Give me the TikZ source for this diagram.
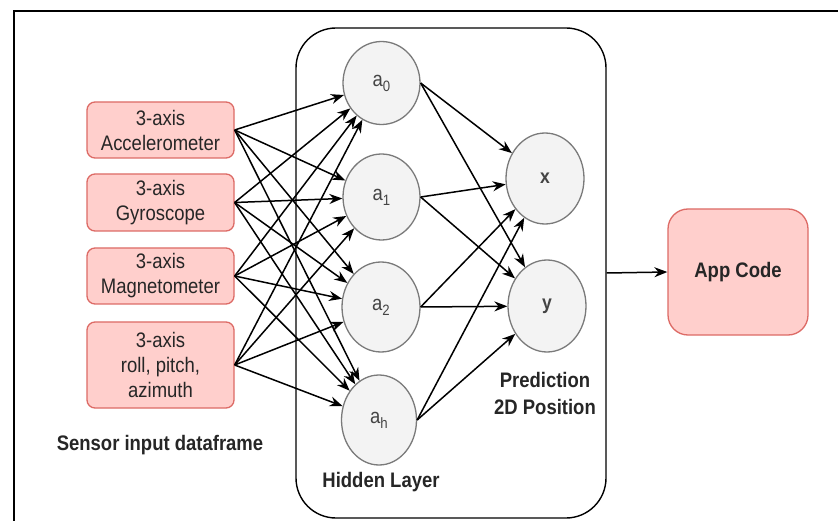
\documentclass[tikz,border=0pt]{standalone}
\usepackage{fontspec}
\setmainfont{Liberation Sans}[FakeStretch=0.88]
\usetikzlibrary{arrows.meta,shapes.geometric}
\definecolor{boxfill}{HTML}{FFCFCC}
\definecolor{boxline}{HTML}{DD6B66}
\definecolor{cfill}{HTML}{F3F3F3}
\definecolor{cline}{HTML}{7A7A7A}
\definecolor{ctext}{HTML}{444444}
\tikzset{
  inbox/.style={draw=boxline, fill=boxfill, line width=1.3pt, rounded corners=8pt, align=center, font=\fontsize{21}{25}\selectfont, text=black!85, inner sep=0pt},
  neuron/.style={ellipse, draw=cline, fill=cfill, line width=1.3pt, inner sep=0pt, font=\fontsize{21}{21}\selectfont, text=ctext},
  conn/.style={-{Stealth[length=13pt,width=10pt]}, line width=1.5pt, black},
  lbl/.style={font=\bfseries\fontsize{21}{27}\selectfont, align=center, text=black!85},
}
\newcommand{\sub}[1]{{\fontsize{15}{15}\selectfont\raisebox{-5pt}{#1}}}
\begin{document}
\begin{tikzpicture}[x=1pt,y=-1pt]
\useasboundingbox (0,0) rectangle (838,521);
\fill[white] (0,0) rectangle (838,521);
% frame
\draw[line width=2.2pt, black] (14,521) -- (14,11) -- (838,11);
% container
\node[draw, line width=1.4pt, rounded corners=40pt, minimum width=310pt, minimum height=490pt, inner sep=0pt] (hl) at (451,273) {};
% inputs
\node[inbox, minimum width=147pt, minimum height=56pt] (acc) at (160.5,130) {3-axis\\Accelerometer};
\node[inbox, minimum width=147pt, minimum height=57pt] (gyr) at (160.5,202.5) {3-axis\\Gyroscope};
\node[inbox, minimum width=147pt, minimum height=56pt] (mag) at (160.5,276) {3-axis\\Magnetometer};
\node[inbox, minimum width=147pt, minimum height=86pt] (rpa) at (160.5,365) {3-axis\\roll, pitch,\\azimuth};
% hidden
\node[neuron, minimum width=77pt, minimum height=83pt] (a0) at (381.5,83) {a\sub{0}};
\node[neuron, minimum width=77pt, minimum height=86pt] (a1) at (381.5,197) {a\sub{1}};
\node[neuron, minimum width=78pt, minimum height=90pt] (a2) at (381,307) {a\sub{2}};
\node[neuron, minimum width=75pt, minimum height=90pt] (ah) at (379,420) {a\sub{h}};
% outputs
\node[neuron, minimum width=78pt, minimum height=91pt, font=\bfseries\fontsize{20}{20}\selectfont] (ox) at (545,178.5) {x};
\node[neuron, minimum width=78pt, minimum height=92pt, font=\bfseries\fontsize{20}{20}\selectfont] (oy) at (547,306) {y};
% app code
\node[draw=boxline, fill=boxfill, line width=1.3pt, rounded corners=20pt, minimum width=140pt, minimum height=126pt, font=\bfseries\fontsize{21}{25}\selectfont, text=black!85] (app) at (738,272) {App Code};
% labels
\node[lbl] (sensorlbl) at (160,445) {Sensor input dataframe};
\node[lbl] (hiddenlbl) at (381,482) {Hidden Layer};
\node[lbl] (predlbl) at (545,393) {Prediction\\2D Position};
% input -> hidden
\foreach \s in {acc,gyr,mag,rpa}{
  \foreach \h in {a0,a1,a2,ah}{
    \draw[conn] (\s.east) -- (\h);
  }
}
% hidden -> output
\foreach \h in {a0,a1,a2,ah}{
  \draw[conn] (\h.east) -- (ox);
  \draw[conn] (\h.east) -- (oy);
}
% container -> app
\draw[conn] (hl.east) -- (app.west);
\end{tikzpicture}
\end{document}
